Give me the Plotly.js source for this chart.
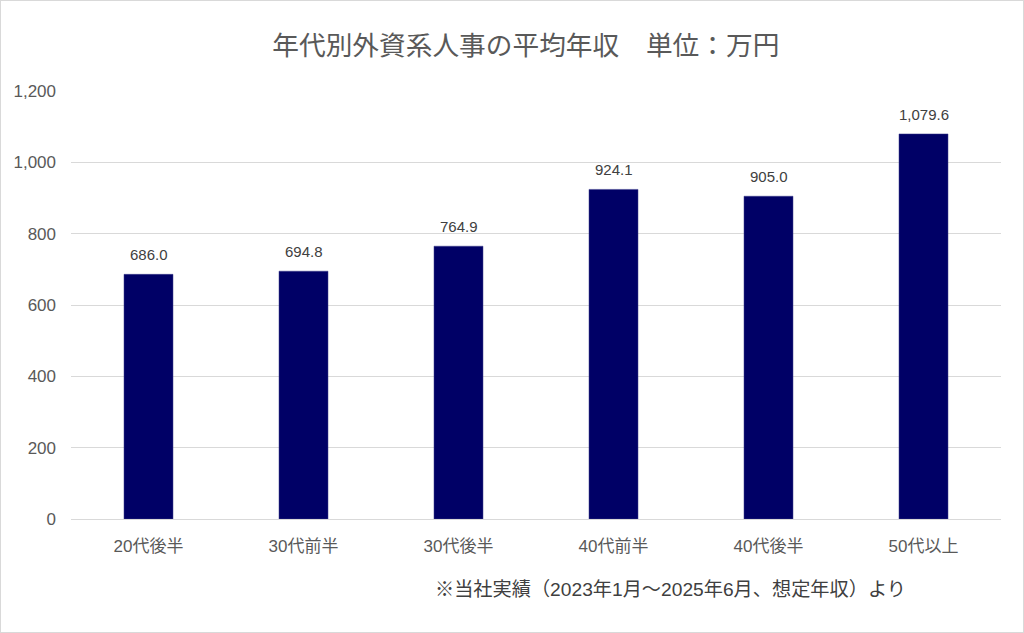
<!DOCTYPE html>
<html><head><meta charset="utf-8">
<script src="https://cdn.plot.ly/plotly-3.0.1.min.js"></script>
<style>html,body{margin:0;padding:0;background:#fff}#c{width:1024px;height:633px;box-sizing:border-box;border:1px solid #d9d9d9}</style>
</head><body><div id="c"></div>
<script>
const categories = ["20代後半","30代前半","30代後半","40代前半","40代後半","50代以上"];
const values = [686.0, 694.8, 764.9, 924.1, 905.0, 1079.6];
const tickVals = [0,200,400,600,800,1000,1200];
const tickText = ["0","200","400","600","800","1,000","1,200"];
const FONT = "Liberation Sans, Arial, Noto Sans CJK JP, sans-serif";
const labels = values.map(v => v.toLocaleString("en-US",{minimumFractionDigits:1,maximumFractionDigits:1}));
const valueAnnotations = categories.map((c, i) => ({
  x: c, y: values[i], xref: "x", yref: "y", text: labels[i], showarrow: false,
  yanchor: "bottom", yshift: 9,
  font: {family: FONT, size: 15, color: "#404040"}
}));
Plotly.newPlot("c", [{
  type: "bar", x: categories, y: values,
  marker: {color: "#000066", line: {color: "#3a3a8a", width: 0.5}},
  hoverinfo: "none"
}], {
  width: 1022, height: 631,
  margin: {l: 70, r: 22, t: 90, b: 113},
  paper_bgcolor: "#fff", plot_bgcolor: "#fff",
  bargap: 0.684,
  title: {text: "年代別外資系人事の平均年収　単位：万円", x: 0.5135, xanchor: "center", y: 0.93, yanchor: "middle",
    font: {family: "Noto Sans CJK JP, sans-serif", size: 26.7, color: "#595959"}},
  xaxis: {tickfont: {family: FONT, size: 17, color: "#595959"},
    showline: true, linecolor: "#d9d9d9", linewidth: 1, ticks: "", ticklabelstandoff: 12, fixedrange: true},
  yaxis: {range: [0, 1200], tickvals: tickVals, ticktext: tickText,
    tickfont: {family: FONT, size: 17, color: "#595959"},
    gridcolor: "#d9d9d9", gridwidth: 1, zeroline: false, ticks: "", ticklabelstandoff: 14, automargin: false},
  annotations: valueAnnotations.concat([{text: "※当社実績（2023年1月～2025年6月、想定年収）より", xref: "paper", yref: "paper",
    x: 0.645, y: -0.165, xanchor: "center", yanchor: "middle", showarrow: false,
    font: {family: FONT, size: 19.2, color: "#404040"}}]),
  showlegend: false
}, {displayModeBar: false, staticPlot: true});
</script></body></html>
